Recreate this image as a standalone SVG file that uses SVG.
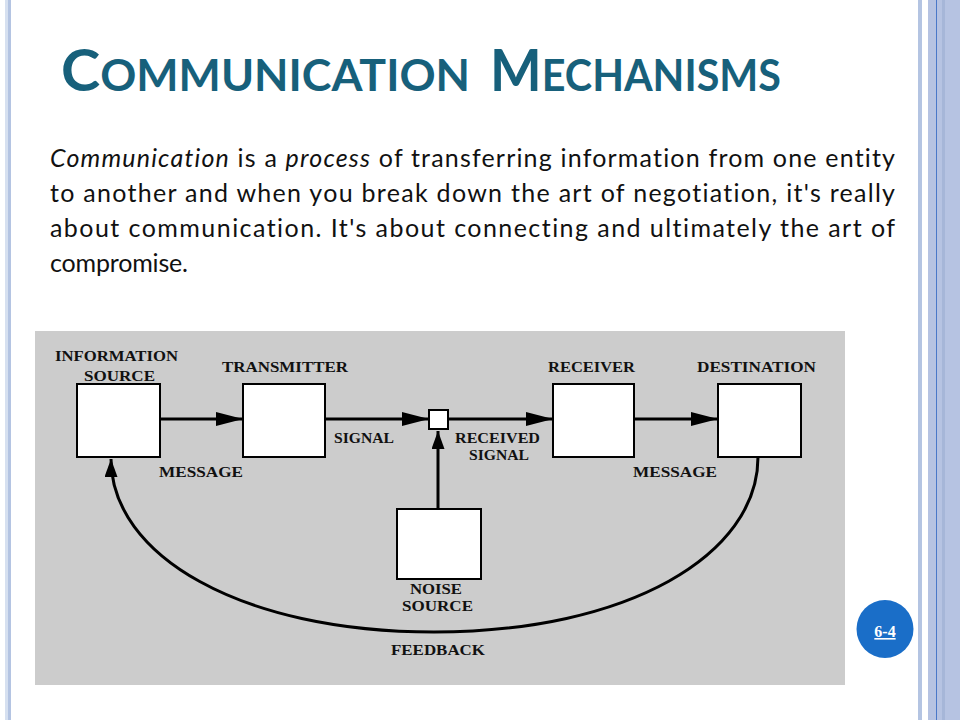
<svg xmlns="http://www.w3.org/2000/svg" width="960" height="720" viewBox="0 0 960 720">
<style>
.lbl{font-family:"Liberation Serif",serif;font-weight:bold;font-size:15px;fill:#111}
.box{fill:#fff;stroke:#000;stroke-width:2}
.ln{stroke:#000;stroke-width:3;fill:none}
.body{font-family:Lato,"Open Sans",sans-serif;font-size:25px;fill:#111;font-variant-ligatures:none;font-feature-settings:"liga" 0,"clig" 0}
.ttl{font-family:Lato,"Open Sans",sans-serif;font-weight:bold;fill:#17607b;font-variant-ligatures:none}
</style>
<defs>
<marker id="ah" markerUnits="userSpaceOnUse" markerWidth="27" markerHeight="14" viewBox="0 0 27 14" refX="27" refY="7" orient="auto">
<path d="M0,0 L27,7 L0,14 Z" fill="#000"/>
</marker>
<marker id="ahs" markerUnits="userSpaceOnUse" markerWidth="18" markerHeight="13" viewBox="0 0 18 13" refX="18" refY="6.5" orient="auto">
<path d="M0,0 L18,6.5 L0,13 Z" fill="#000"/>
</marker>
</defs>
<rect width="960" height="720" fill="#fff"/>
<g id="frame">
<rect x="5" y="0" width="3" height="720" fill="#d6e0f0"/>
<rect x="8" y="0" width="3" height="720" fill="#b4c4e2"/>
<rect x="918" y="0" width="4" height="720" fill="#b4c4e2"/>
<rect x="928" y="0" width="32" height="720" fill="#b6c3e2"/>
<rect x="936" y="0" width="1" height="720" fill="#4a78c8"/>
<rect x="942" y="0" width="3" height="720" fill="#a6b6d8"/>
</g>
<g id="title">
<text class="ttl" x="61" y="91" textLength="409" lengthAdjust="spacingAndGlyphs"><tspan font-size="57">C</tspan><tspan font-size="43">OMMUNICATION</tspan></text>
<text class="ttl" x="490" y="91" textLength="291" lengthAdjust="spacingAndGlyphs"><tspan font-size="57">M</tspan><tspan font-size="43">ECHANISMS</tspan></text>
</g>
<g id="paragraph">
<text class="body" x="50" y="167" textLength="845" lengthAdjust="spacing"><tspan font-style="italic">Communication</tspan> is a <tspan font-style="italic">process</tspan> of transferring information from one entity</text>
<text class="body" x="50" y="202" textLength="845" lengthAdjust="spacing">to another and when you break down the art of negotiation, it's really</text>
<text class="body" x="50" y="237" textLength="845" lengthAdjust="spacing">about communication. It's about connecting and ultimately the art of</text>
<text class="body" x="50" y="272" textLength="138" lengthAdjust="spacing">compromise.</text>
</g>
<rect id="diagram-bg" x="35" y="331" width="810" height="354" fill="#cccccc"/>
<g id="connectors">
<line class="ln" x1="160" y1="419" x2="243" y2="419" marker-end="url(#ah)"/>
<line class="ln" x1="325" y1="419" x2="429" y2="419" marker-end="url(#ah)"/>
<line class="ln" x1="449" y1="419" x2="553" y2="419" marker-end="url(#ah)"/>
<line class="ln" x1="634" y1="419" x2="718" y2="419" marker-end="url(#ah)"/>
<line class="ln" x1="438" y1="509" x2="438" y2="431" marker-end="url(#ahs)"/>
<path class="ln" d="M758,457 C758,555 628,632 434,632 C240,632 111,555 111,459" marker-end="url(#ahs)"/>
<text class="lbl" x="334" y="443" textLength="60" lengthAdjust="spacingAndGlyphs">SIGNAL</text>
<text class="lbl" x="159" y="477" textLength="84" lengthAdjust="spacingAndGlyphs">MESSAGE</text>
<text class="lbl" x="455" y="443" textLength="85" lengthAdjust="spacingAndGlyphs">RECEIVED</text>
<text class="lbl" x="469" y="460" textLength="60" lengthAdjust="spacingAndGlyphs">SIGNAL</text>
<text class="lbl" x="633" y="477" textLength="84" lengthAdjust="spacingAndGlyphs">MESSAGE</text>
<text class="lbl" x="391" y="655" textLength="94" lengthAdjust="spacingAndGlyphs">FEEDBACK</text>
</g>
<g id="info-source">
<rect class="box" x="77" y="384" width="83" height="73"/>
<text class="lbl" x="55" y="361" textLength="123" lengthAdjust="spacingAndGlyphs">INFORMATION</text>
<text class="lbl" x="84" y="381" textLength="71" lengthAdjust="spacingAndGlyphs">SOURCE</text>
</g>
<g id="transmitter">
<rect class="box" x="243" y="384" width="82" height="73"/>
<text class="lbl" x="222" y="372" textLength="126" lengthAdjust="spacingAndGlyphs">TRANSMITTER</text>
</g>
<g id="junction">
<rect class="box" x="429" y="410" width="19" height="19"/>
</g>
<g id="receiver">
<rect class="box" x="553" y="384" width="81" height="73"/>
<text class="lbl" x="548" y="372" textLength="87" lengthAdjust="spacingAndGlyphs">RECEIVER</text>
</g>
<g id="destination">
<rect class="box" x="718" y="384" width="83" height="73"/>
<text class="lbl" x="697" y="372" textLength="119" lengthAdjust="spacingAndGlyphs">DESTINATION</text>
</g>
<g id="noise-source">
<rect class="box" x="397" y="509" width="84" height="70"/>
<text class="lbl" x="410" y="594" textLength="52" lengthAdjust="spacingAndGlyphs">NOISE</text>
<text class="lbl" x="402" y="611" textLength="71" lengthAdjust="spacingAndGlyphs">SOURCE</text>
</g>
<g id="page-number">
<ellipse cx="885" cy="629" rx="28.5" ry="29" fill="#1a6ec8"/>
<text x="885" y="637" text-anchor="middle" font-family="Liberation Serif,serif" font-weight="bold" font-size="16" fill="#fff" text-decoration="underline">6-4</text>
</g>
</svg>
